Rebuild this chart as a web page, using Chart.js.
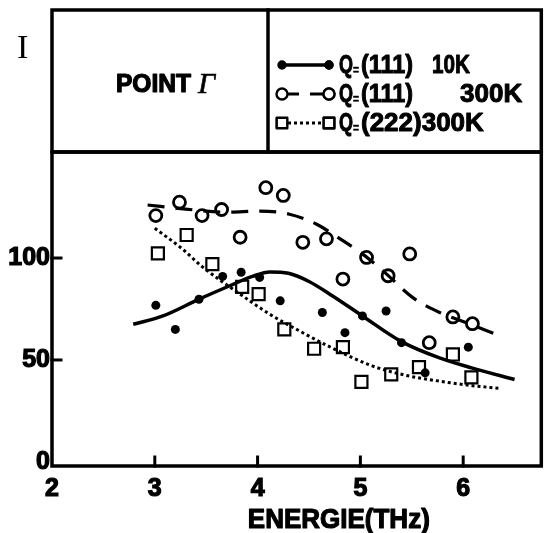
<!DOCTYPE html>
<html>
<head>
<meta charset="utf-8">
<script src="https://cdn.jsdelivr.net/npm/chart.js@4.4.0/dist/chart.umd.min.js"></script>
<style>
html, body { margin: 0; padding: 0; background: #fff; }
#wrap { width: 552px; height: 533px; }
</style>
</head>
<body>
<div id="wrap"><canvas id="chart"></canvas></div>
<script>
// tick labels
var xTicks = [2, 3, 4, 5, 6];
var yTicks = [0, 50, 100];

// Q=(111) 10K measured points (filled dots)
var dots10kX = [3.01, 3.20, 3.43, 3.66, 3.84, 4.02, 4.22, 4.63, 4.85, 5.02, 5.25, 5.40, 5.63, 6.05];
var dots10kY = [76.8, 65.0, 79.8, 91.0, 93.0, 90.5, 79.0, 73.3, 63.4, 71.6, 74.0, 58.5, 43.7, 56.3];

// Q=(111) 300K measured points (open circles)
var circ300kX = [3.01, 3.24, 3.46, 3.65, 3.83, 4.08, 4.25, 4.44, 4.67, 4.83, 5.06, 5.27, 5.48, 5.67, 5.90, 6.09];
var circ300kY = [120.8, 127.4, 120.8, 123.8, 110.2, 134.5, 130.7, 107.7, 109.4, 89.7, 100.3, 91.3, 102.0, 58.5, 71.1, 67.8];

// Q=(222) 300K measured points (open squares)
var sq300kX = [3.03, 3.31, 3.56, 3.85, 4.01, 4.26, 4.55, 4.83, 5.01, 5.30, 5.57, 5.90, 6.08];
var sq300kY = [102.3, 111.3, 97.0, 85.9, 82.3, 65.0, 55.5, 56.3, 39.3, 42.9, 46.5, 52.7, 41.5];

// hand drawn guide curves
var fit10kX = [2.79, 3.08, 3.43, 3.73, 3.95, 4.12, 4.30, 4.50, 4.73, 5.02, 5.40, 5.77, 6.09, 6.50];
var fit10kY = [67.5, 71.6, 79.8, 86.4, 91.0, 93.2, 92.5, 88.5, 81.4, 71.6, 59.0, 51.0, 46.0, 40.4];

var fit111X = [2.93, 3.30, 3.70, 4.02, 4.31, 4.57, 4.83, 5.00, 5.22, 5.51, 5.77, 6.03, 6.32];
var fit111Y = [126.0, 124.0, 122.5, 123.0, 121.5, 116.7, 108.5, 102.8, 93.7, 80.6, 73.3, 68.3, 62.6];

var fit222X = [3.00, 3.27, 3.45, 3.83, 4.12, 4.38, 4.70, 5.12, 5.44, 5.77, 6.09, 6.37];
var fit222Y = [114.6, 104.4, 96.2, 82.3, 72.4, 65.0, 56.5, 47.0, 42.5, 39.6, 37.4, 36.0];

var legendTexts = ['(111)', '(111)', '(222)'];
var legendTemps = ['10K', '300K', '300K'];

function pairs(xs, ys) {
    return xs.map(function(x, i) { return { x: x, y: ys[i] }; });
}

var BOLD = '"Liberation Sans", Arial, sans-serif';

// heavy text: fill plus thin stroke, squeezed to maxW if given
function txt(ctx, s, x, y, font, maxW, heavy) {
    ctx.font = font;
    ctx.lineWidth = heavy || 0;
    if (maxW) {
        ctx.fillText(s, x, y, maxW);
        if (heavy) ctx.strokeText(s, x, y, maxW);
    } else {
        ctx.fillText(s, x, y);
        if (heavy) ctx.strokeText(s, x, y);
    }
}

var framePlugin = {
    id: 'frame',
    afterDraw: function(chart) {
        var ctx = chart.ctx;
        var a = chart.chartArea;
        var xs = chart.scales.x, ys = chart.scales.y;
        ctx.save();
        ctx.strokeStyle = '#000';
        ctx.fillStyle = '#000';
        ctx.lineWidth = 3.5;
        ctx.lineCap = 'square';

        // header box
        ctx.strokeRect(a.left, 10, a.right - a.left, a.top - 10);
        ctx.beginPath();
        ctx.moveTo(268, 10); ctx.lineTo(268, a.top);
        ctx.stroke();
        // plot box
        ctx.strokeRect(a.left, a.top, a.right - a.left, a.bottom - a.top);

        // inner tick marks
        ctx.lineWidth = 3;
        xTicks.forEach(function(v) {
            if (v === xs.min) return;
            var px = xs.getPixelForValue(v);
            ctx.beginPath(); ctx.moveTo(px, a.bottom); ctx.lineTo(px, a.bottom - 9); ctx.stroke();
        });
        yTicks.forEach(function(v) {
            if (v === 0) return;
            var py = ys.getPixelForValue(v);
            ctx.beginPath(); ctx.moveTo(a.left, py); ctx.lineTo(a.left + 9, py); ctx.stroke();
        });

        // "I" axis name
        ctx.textBaseline = 'middle';
        ctx.textAlign = 'left';
        ctx.lineJoin = 'round';
        txt(ctx, 'I', 17, 49, '34px "Liberation Serif", serif');

        // POINT Γ
        txt(ctx, 'POINT', 116, 85, 'bold 25px ' + BOLD, 75, 1.2);
        txt(ctx, 'Γ', 198, 85, 'italic 30px "Liberation Serif", serif', 0, 0.6);

        // legend
        var rows = [65, 94, 123];
        var styles = [chart.data.datasets[3], chart.data.datasets[4], chart.data.datasets[5]];
        var lines = [chart.data.datasets[0], chart.data.datasets[1], chart.data.datasets[2]];
        rows.forEach(function(ry, i) {
            var ln = lines[i], st = styles[i];
            ctx.save();
            ctx.lineWidth = ln.borderWidth;
            ctx.setLineDash(ln.borderDash || []);
            ctx.lineCap = 'butt';
            ctx.beginPath(); ctx.moveTo(282, ry); ctx.lineTo(329, ry); ctx.stroke();
            ctx.restore();
            var r = i === 0 ? 3.5 : (i === 1 ? 5.5 : 7.5);
            [282, 329].forEach(function(px) {
                Chart.helpers.drawPoint(ctx, {
                    pointStyle: st.pointStyle, radius: r, borderWidth: 2.4, rotation: 0
                }, px, ry);
                ctx.strokeStyle = '#000';
                ctx.lineWidth = 2.4;
                ctx.fillStyle = i === 0 ? '#000' : '#fff';
                ctx.fill();
                ctx.stroke();
            });
            ctx.fillStyle = '#000';
            txt(ctx, 'Q', 339, ry + 1, 'bold 26px ' + BOLD, 14, 1);
            txt(ctx, '=', 353, ry + 6, 'bold 12px ' + BOLD, 6, 0.5);
            if (i === 2) {
                txt(ctx, legendTexts[i] + legendTemps[i], 361, ry + 1, 'bold 26px ' + BOLD, 172, 1);
            } else {
                txt(ctx, legendTexts[i], 361, ry + 1, 'bold 26px ' + BOLD, 52, 1);
                var tx = i === 0 ? 432 : 460;
                var tw = i === 0 ? 38 : 74;
                txt(ctx, legendTemps[i], tx, ry + 1, 'bold 26px ' + BOLD, tw, 1);
            }
        });

        // x axis title
        ctx.textAlign = 'center';
        txt(ctx, 'ENERGIE(THz)', xs.getPixelForValue(4.79), 520, 'bold 28px ' + BOLD, 182, 1.2);
        ctx.restore();
    }
};

var ctx = document.getElementById('chart');

new Chart(ctx, {
    type: 'scatter',
    data: {
        datasets: [
            { type: 'line', data: pairs(fit10kX, fit10kY), borderColor: '#000', borderWidth: 3.5,
              pointRadius: 0, cubicInterpolationMode: 'monotone', fill: false },
            { type: 'line', data: pairs(fit111X, fit111Y), borderColor: '#000', borderWidth: 3.2,
              borderDash: [17, 11], pointRadius: 0, cubicInterpolationMode: 'monotone', fill: false },
            { type: 'line', data: pairs(fit222X, fit222Y), borderColor: '#000', borderWidth: 3,
              borderDash: [3, 3], pointRadius: 0, cubicInterpolationMode: 'monotone', fill: false },
            { data: pairs(dots10kX, dots10kY), pointStyle: 'circle', pointRadius: 4.5,
              backgroundColor: '#000', borderColor: '#000', borderWidth: 0, showLine: false },
            { data: pairs(circ300kX, circ300kY), pointStyle: 'circle', pointRadius: 6,
              backgroundColor: 'rgba(0,0,0,0)', borderColor: '#000', borderWidth: 2.8, showLine: false },
            { data: pairs(sq300kX, sq300kY), pointStyle: 'rect', pointRadius: 8.5,
              backgroundColor: 'rgba(0,0,0,0)', borderColor: '#000', borderWidth: 2.2, showLine: false }
        ]
    },
    options: {
        responsive: true,
        maintainAspectRatio: false,
        animation: false,
        devicePixelRatio: 1,
        layout: { padding: { left: 0, top: 152, right: 7, bottom: 0 } },
        plugins: { legend: { display: false }, tooltip: { enabled: false } },
        scales: {
            x: {
                type: 'linear', min: 2, max: 6.76,
                afterBuildTicks: function(scale) { scale.ticks = xTicks.map(function(v) { return { value: v }; }); },
                afterFit: function(scale) { scale.height = 67; },
                grid: { display: false, drawTicks: false },
                border: { display: false },
                ticks: { color: '#000', padding: 8, textStrokeColor: '#000', textStrokeWidth: 1.2,
                         font: { family: BOLD, size: 25, weight: 'bold' } }
            },
            y: {
                type: 'linear', min: -2, max: 152,
                afterBuildTicks: function(scale) { scale.ticks = yTicks.map(function(v) { return { value: v }; }); },
                afterFit: function(scale) { scale.width = 52; },
                grid: { display: false, drawTicks: false },
                border: { display: false },
                ticks: { color: '#000', padding: 2, textStrokeColor: '#000', textStrokeWidth: 1.2,
                         font: { family: BOLD, size: 25, weight: 'bold' } }
            }
        }
    },
    plugins: [framePlugin]
});
</script>
</body>
</html>
